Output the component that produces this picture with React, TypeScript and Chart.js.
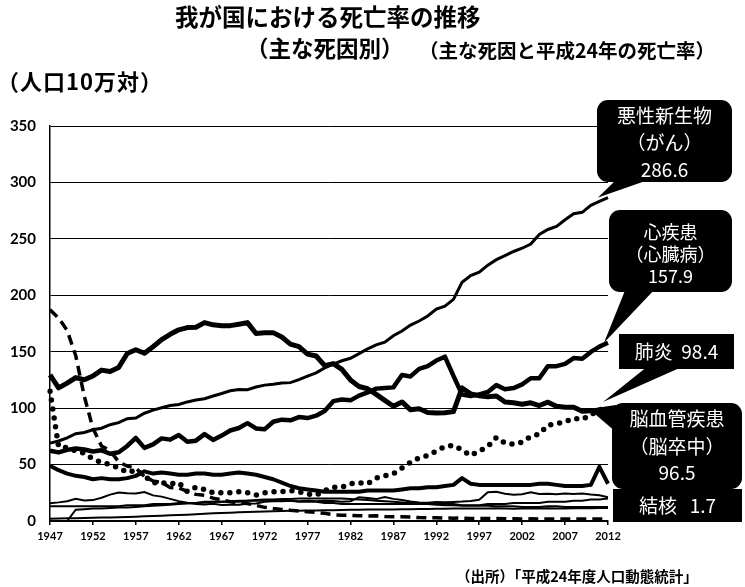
import React, { useEffect, useRef } from "react";
import { Chart, registerables } from "chart.js";

Chart.register(...registerables);

const years = [
  "1947","1948","1949","1950","1951","1952","1953","1954","1955","1956",
  "1957","1958","1959","1960","1961","1962","1963","1964","1965","1966",
  "1967","1968","1969","1970","1971","1972","1973","1974","1975","1976",
  "1977","1978","1979","1980","1981","1982","1983","1984","1985","1986",
  "1987","1988","1989","1990","1991","1992","1993","1994","1995","1996",
  "1997","1998","1999","2000","2001","2002","2003","2004","2005","2006",
  "2007","2008","2009","2010","2011","2012",
];
const xTickLabels = ["1947","1952","1957","1962","1967","1972","1977","1982","1987","1992","1997","2002","2007","2012"];
const yTicks = [0, 50, 100, 150, 200, 250, 300, 350];

// 悪性新生物
const cancer = [
  69.0,70.9,73.7,77.4,78.5,80.8,82.2,85.3,87.1,90.7,
  91.3,95.5,98.2,100.4,102.3,103.2,105.5,107.2,108.4,110.8,
  113.0,115.4,116.6,116.3,118.7,120.4,121.2,122.2,122.6,125.3,
  128.4,131.3,135.7,139.1,142.0,144.2,148.3,152.5,156.1,158.5,
  164.2,168.4,173.6,177.2,181.7,187.8,190.4,196.4,211.6,217.5,
  220.4,226.7,231.6,235.2,238.8,241.7,245.4,253.9,258.3,261.0,
  266.9,272.3,273.5,279.7,283.2,286.6,
];
// 心疾患
const heart = [
  62.2,60.8,63.0,64.2,63.4,61.6,62.6,59.6,60.9,66.5,
  73.6,64.8,67.9,73.2,72.1,76.2,70.2,71.2,77.0,71.8,
  75.7,80.2,82.4,86.7,82.0,81.2,87.9,89.8,89.2,92.1,
  91.2,93.3,97.5,106.2,107.6,106.9,111.1,113.9,117.3,117.9,
  118.4,129.4,128.1,134.8,137.2,142.2,145.6,128.6,112.0,110.8,
  112.2,114.3,120.4,116.8,117.8,121.0,126.5,126.5,137.2,137.2,
  139.2,144.4,143.7,149.8,154.5,157.9,
];
// 肺炎
const pneumonia = [
  115,66,65,62,60,55,52,50,47,43,
  45,40,34,34,33,34,26,30,28,25,
  25,25,26,25,23,25,26,26,27,26,
  24,23,27,30,30,33,34,33,38,40,
  42,47,52,56,58,62,66,67,63,58,
  62,66,74,69,68,70,75,77,85,86,
  88,91,90,94,99,98.4,
];
// 脳血管疾患
const stroke = [
  129.4,117.9,122.2,127.1,125.2,128.5,133.7,132.4,136.1,148.4,
  151.7,148.6,154.4,160.7,165.4,169.4,171.4,171.7,175.8,173.8,
  173.1,173.1,174.4,175.8,166.1,166.7,166.9,163.0,156.7,154.5,
  147.9,146.2,137.7,139.5,134.3,125.0,119.2,117.2,112.2,106.9,
  101.7,105.5,98.5,99.4,96.2,95.6,96.0,96.9,117.9,112.6,
  111.0,110.0,110.8,105.5,104.7,103.4,104.7,102.3,105.3,101.7,
  100.8,100.9,97.2,97.7,98.2,96.5,
];
// 結核
const tuberculosis = [
  187.2,179.9,168.8,146.4,110.3,82.2,66.5,62.4,52.3,48.6,
  46.9,39.4,35.5,34.2,29.6,29.3,26.3,23.6,22.8,20.3,
  18.6,17.0,16.1,15.4,13.8,12.1,11.1,10.3,9.5,8.9,
  8.2,7.6,6.8,5.5,5.2,4.9,4.6,4.5,4.6,3.9,
  3.8,3.7,3.5,3.0,2.8,2.8,2.6,2.5,2.6,2.3,
  2.2,2.2,2.3,2.1,2.0,1.8,1.9,1.8,1.8,1.8,
  1.7,1.8,1.7,1.7,1.7,1.7,
];
// 不慮の事故
const accidents = [
  49,45,42,40,39,37,38,37,37,38,
  40,44,42,43,42,41,41,42,42,41,
  41,42,43,42,41,39,37,34,31,29,
  28,27,26,26,26,26,26,27,27,27,
  27,28,29,29,30,30,31,32,38,33,
  32,32,32,32,32,32,32,33,33,32,
  31,31,31,32,48,33,
];
// 自殺
const suicide = [
  15.7,16.5,17.5,19.6,18.2,18.5,20.6,23.4,25.2,24.5,
  24.3,25.7,22.7,21.6,19.6,17.6,16.1,15.1,14.7,15.2,
  14.2,14.5,14.5,15.3,15.6,17.0,17.4,17.5,18.0,17.6,
  17.9,17.6,18.0,17.7,17.1,17.5,21.0,20.4,19.4,21.2,
  19.6,18.7,17.3,16.4,16.1,16.9,16.6,16.9,17.2,17.8,
  18.8,25.4,26.0,24.1,23.3,23.8,25.5,24.0,24.2,23.7,
  24.4,24.0,24.4,23.4,22.9,21.0,
];
// 腎不全
const kidney = [
  13,13,13,13,13,13,13,13,13,14,
  14,14,15,15,15,16,16,16,17,17,
  17,17,17,18,18,18,18,18,18,17,
  17,17,16,16,15,15,15,15,15,15,
  15,15,15,15,15,15,15,15,14,14,
  14,15,15,15,16,16,16,16,17,17,
  17,18,18,19,19,20,
];
// 肝疾患
const liver = [
  0,0,0,10,10.5,11,11,11.5,12,12,
  12.5,13,13.5,14,14.5,15,15.5,16,16.5,17,
  17,17.5,18,18,18.5,19,19,19.5,19.5,20,
  20,20,20,20,20,19.5,19,18.5,18,17.5,
  17,16.5,16,15.5,15,14.5,14,14,13.5,13.5,
  13.5,13.5,13,13,13,12.5,12.5,12.5,13,13,
  12.5,12.5,12.5,12.5,12.5,12.5,
];
// 糖尿病
const diabetes = [
  2.0,2.2,2.4,2.5,2.6,2.8,3.0,3.2,3.4,3.6,
  3.8,4.1,4.4,4.7,5.0,5.3,5.6,6.0,6.4,6.8,
  7.1,7.4,7.7,8.0,8.2,8.4,8.6,8.8,9.0,9.1,
  9.2,9.4,9.5,9.6,9.8,9.9,10.0,10.1,10.2,10.3,
  10.3,10.4,10.5,10.6,10.7,10.8,10.9,11.0,11.1,11.0,
  11.0,11.1,11.2,11.0,10.9,11.0,11.1,11.0,11.2,11.0,
  11.1,11.3,11.2,11.4,11.6,11.5,
];

const calloutCancer = ["悪性新生物", "（がん）", "286.6"];
const calloutHeart = ["心疾患", "（心臓病）", "157.9"];
const calloutPneumonia = ["肺炎  98.4"];
const calloutStroke = ["脳血管疾患", "（脳卒中）", "96.5"];
const calloutTb = ["結核   1.7"];

const JP = '"Noto Sans CJK JP", "Noto Sans CJK SC", sans-serif';

export default function App() {
  const ref = useRef<HTMLCanvasElement>(null);

  useEffect(() => {
    const canvas = ref.current;
    if (!canvas) return;

    const calloutPlugin = {
      id: "callouts",
      afterDraw(chart: any) {
        const { ctx } = chart;
        const xs = chart.scales.x;
        const ys = chart.scales.y;
        const last = years.length - 1;
        const xEnd = xs.getPixelForValue(last);
        ctx.save();
        ctx.fillStyle = "#000";

        const tri = (a: number[], b: number[], c: number[]) => {
          ctx.beginPath();
          ctx.moveTo(a[0], a[1]);
          ctx.lineTo(b[0], b[1]);
          ctx.lineTo(c[0], c[1]);
          ctx.closePath();
          ctx.fill();
        };
        const box = (x: number, y: number, w: number, h: number, r: number) => {
          ctx.beginPath();
          if (r > 0) ctx.roundRect(x, y, w, h, r);
          else ctx.rect(x, y, w, h);
          ctx.fill();
        };
        const text = (lines: string[], cx: number, ys0: number[], size: number) => {
          ctx.save();
          ctx.fillStyle = "#fff";
          ctx.textAlign = "center";
          ctx.textBaseline = "middle";
          ctx.font = `${size}px ${JP}`;
          lines.forEach((l, i) => ctx.fillText(l, cx, ys0[i]));
          ctx.restore();
        };

        // 悪性新生物
        const yC = ys.getPixelForValue(cancer[last]);
        tri([618, 178], [654, 178], [xEnd - 10, yC]);
        box(597, 100, 135, 82, 11);
        text(calloutCancer, 664.5, [116, 143, 170], 19);

        // 心疾患
        const yH = ys.getPixelForValue(heart[last]);
        tri([626, 288], [656, 288], [xEnd - 4, yH]);
        box(609, 210, 123, 82, 11);
        text(calloutHeart, 670.5, [232, 254, 276], 18);

        // 肺炎
        const yP = ys.getPixelForValue(pneumonia[last]);
        tri([648, 366], [684, 366], [xEnd - 5, yP - 8]);
        box(619, 334, 115, 35, 0);
        text(calloutPneumonia, 676.5, [352], 19);

        // 脳血管疾患
        const yS = ys.getPixelForValue(stroke[last]);
        tri([616, 405], [616, 432], [xEnd - 19, yS - 3]);
        box(612, 403, 130, 86, 11);
        text(calloutStroke, 677, [419, 447, 473], 19);

        // 結核
        box(613, 489, 129, 33, 0);
        text(calloutTb, 677.5, [506], 19);

        ctx.restore();
      },
    };

    const thin = (data: number[]) => ({
      data,
      borderColor: "#000",
      borderWidth: 2,
      pointRadius: 0,
      tension: 0,
      fill: false,
    });

    const chart = new Chart(canvas, {
      type: "line",
      data: {
        labels: years,
        datasets: [
          { data: stroke, borderColor: "#000", borderWidth: 5, pointRadius: 0, tension: 0, fill: false, borderJoinStyle: "round" },
          { data: heart, borderColor: "#000", borderWidth: 4.5, pointRadius: 0, tension: 0, fill: false, borderJoinStyle: "round" },
          { data: cancer, borderColor: "#000", borderWidth: 3, pointRadius: 0, tension: 0, fill: false },
          { data: pneumonia, borderColor: "#000", borderWidth: 5.5, pointRadius: 0, tension: 0, fill: false, borderDash: [0, 9], borderCapStyle: "round" },
          { data: tuberculosis, borderColor: "#000", borderWidth: 3.5, pointRadius: 0, tension: 0, fill: false, borderDash: [10, 6] },
          { data: accidents, borderColor: "#000", borderWidth: 4, pointRadius: 0, tension: 0, fill: false, borderJoinStyle: "round" },
          thin(suicide),
          thin(kidney),
          thin(liver),
          thin(diabetes),
        ] as any,
      },
      options: {
        responsive: false,
        maintainAspectRatio: false,
        devicePixelRatio: 1,
        animation: false,
        events: [],
        layout: { padding: { left: 0, right: 137, top: 126, bottom: 36 } },
        plugins: {
          legend: { display: false },
          tooltip: { enabled: false },
          title: { display: false },
        },
        scales: {
          x: {
            type: "category",
            offset: false,
            grid: {
              display: true,
              drawOnChartArea: false,
              drawTicks: true,
              tickLength: 4,
              lineWidth: 1.5,
              color: (c: any) => (xTickLabels.includes(years[c.index]) ? "#000" : "rgba(0,0,0,0)"),
            },
            border: { display: true, color: "#000", width: 1.5 },
            ticks: {
              autoSkip: false,
              maxRotation: 0,
              minRotation: 0,
              padding: 5,
              color: "#000",
              font: { family: "Lato", weight: "bold", size: 11 },
              callback: (_v: any, i: number) => (xTickLabels.includes(years[i]) ? years[i] : ""),
            },
            afterFit: (s: any) => {
              s.height = 30;
            },
          },
          y: {
            type: "linear",
            min: 0,
            max: 350,
            afterBuildTicks: (s: any) => {
              s.ticks = yTicks.map((v) => ({ value: v }));
            },
            grid: { color: "#000", lineWidth: 1, drawTicks: false },
            border: { display: true, color: "#000", width: 1.5 },
            ticks: {
              padding: 14,
              color: "#000",
              font: { family: "Lato", weight: "bold", size: 15 },
            },
            afterFit: (s: any) => {
              s.width = 50;
            },
          },
        },
      },
      plugins: [calloutPlugin],
    } as any);

    return () => chart.destroy();
  }, []);

  const txt = (extra: React.CSSProperties): React.CSSProperties => ({
    position: "absolute",
    whiteSpace: "nowrap",
    fontFamily: JP,
    fontWeight: 700,
    color: "#000",
    ...extra,
  });

  return (
    <div style={{ position: "fixed", left: 0, top: 0, width: 745, height: 587, background: "#fff", overflow: "hidden" }}>
      <canvas ref={ref} width={745} height={587} style={{ position: "absolute", left: 0, top: 0, width: 745, height: 587 }} />
      <div style={txt({ left: 175, top: 5, fontSize: 23.5, lineHeight: "23.5px" })}>我が国における死亡率の推移</div>
      <div style={txt({ left: 246, top: 36, fontSize: 22.5, lineHeight: "22.5px" })}>（主な死因別）</div>
      <div style={txt({ left: 419, top: 40, fontSize: 19.5, lineHeight: "19.5px" })}>（主な死因と平成24年の死亡率）</div>
      <div style={txt({ left: -3, top: 69, fontSize: 22, lineHeight: "22px", letterSpacing: 1 })}>（人口10万対）</div>
      <div style={txt({ left: 456, top: 569, fontSize: 14.5, lineHeight: "14.5px" })}>（出所）「平成24年度人口動態統計」</div>
    </div>
  );
}
